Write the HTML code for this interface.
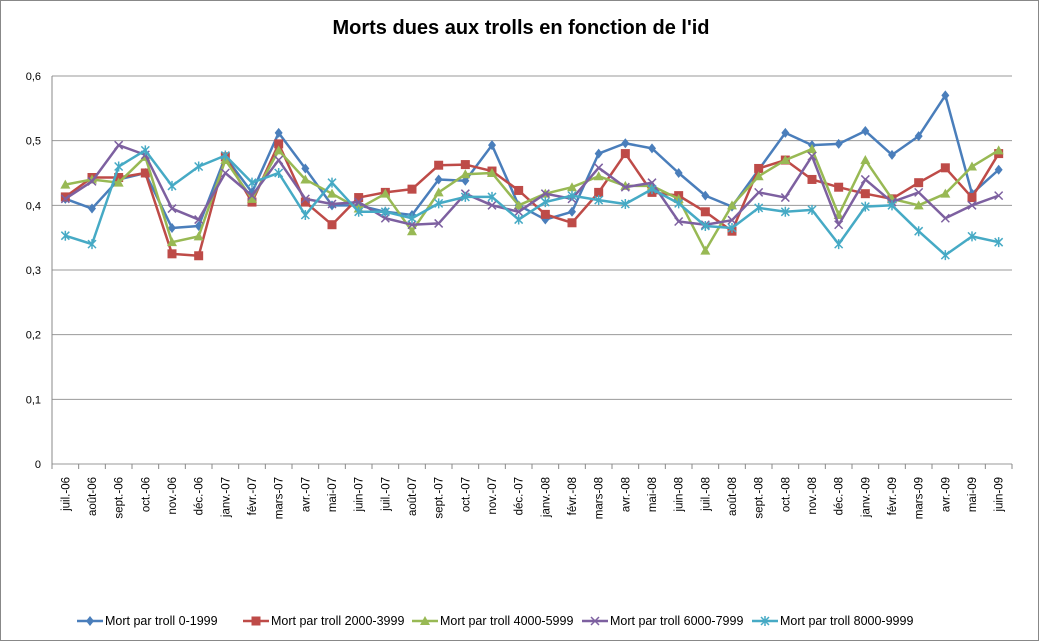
<!DOCTYPE html>
<html><head><meta charset="utf-8"><style>
body{margin:0;background:#fff;}
svg{display:block;font-family:"Liberation Sans",sans-serif;}
</style></head><body>
<svg id="c" width="1043" height="642" xmlns="http://www.w3.org/2000/svg">
<rect x="0.5" y="0.5" width="1038" height="640" fill="#fff" stroke="#888"/>
<text x="521" y="34" text-anchor="middle" font-size="20" font-weight="bold">Morts dues aux trolls en fonction de l'id</text>
</svg>
<script>
const s=document.getElementById('c'),NS='http://www.w3.org/2000/svg';
function el(t,a,txt){const e=document.createElementNS(NS,t);for(const k in a)e.setAttribute(k,a[k]);if(txt!=null)e.textContent=txt;s.appendChild(e);return e;}
const L=52,R=1012,Y0=464,PX=646.7,W=(R-L)/36;
const yv=v=>Y0-v*PX, xc=i=>L+W*(i+0.5);
for(let k=0;k<=6;k++){const y=yv(k/10);el('line',{x1:L,x2:R,y1:y,y2:y,stroke:'#999','stroke-width':1});
el('text',{x:41,y:y+4,'text-anchor':'end','font-size':11},k==0?'0':'0,'+k);}
el('line',{x1:L,x2:L,y1:yv(0.6),y2:Y0,stroke:'#888'});
for(let i=0;i<=36;i++){const x=L+W*i;el('line',{x1:x,x2:x,y1:Y0,y2:Y0+5,stroke:'#888'});}
const labs=['juil.-06','août-06','sept.-06','oct.-06','nov.-06','déc.-06','janv.-07','févr.-07','mars-07','avr.-07','mai-07','juin-07','juil.-07','août-07','sept.-07','oct.-07','nov.-07','déc.-07','janv.-08','févr.-08','mars-08','avr.-08','mai-08','juin-08','juil.-08','août-08','sept.-08','oct.-08','nov.-08','déc.-08','janv.-09','févr.-09','mars-09','avr.-09','mai-09','juin-09'];
labs.forEach((t,i)=>{const x=xc(i)+4,y=477;el('text',{x:x,y:y,'text-anchor':'end','font-size':11.5,transform:`rotate(-90 ${x} ${y})`},t);});
const D=[
['#4a7ebb','d',[.41,.395,.44,.45,.365,.368,.475,.42,.512,.457,.40,.40,.39,.385,.44,.438,.493,.40,.378,.39,.48,.496,.488,.45,.415,.398,.455,.512,.493,.495,.515,.478,.507,.57,.418,.455],'Mort par troll 0-1999'],
['#be4b48','s',[.413,.443,.443,.45,.325,.322,.475,.405,.495,.405,.37,.412,.42,.425,.462,.463,.453,.423,.386,.373,.42,.48,.42,.415,.39,.36,.457,.47,.44,.428,.418,.41,.435,.458,.412,.48],'Mort par troll 2000-3999'],
['#98b954','t',[.432,.44,.435,.475,.343,.352,.47,.41,.485,.44,.418,.395,.418,.36,.42,.448,.45,.4,.418,.428,.445,.43,.43,.41,.33,.4,.445,.47,.487,.385,.47,.41,.4,.418,.46,.485],'Mort par troll 4000-5999'],
['#7d60a0','x',[.41,.437,.493,.478,.395,.378,.45,.415,.47,.41,.402,.405,.38,.37,.372,.418,.4,.39,.418,.41,.458,.428,.435,.375,.37,.377,.42,.412,.476,.37,.44,.405,.42,.38,.4,.415],'Mort par troll 6000-7999'],
['#46aac5','a',[.353,.34,.46,.485,.43,.46,.477,.435,.45,.385,.435,.39,.39,.38,.403,.413,.413,.378,.405,.415,.408,.402,.425,.403,.368,.365,.396,.39,.393,.34,.398,.4,.36,.323,.352,.343],'Mort par troll 8000-9999']];
function mk(c,m,x,y){
 if(m=='d')el('path',{d:`M${x} ${y-5}L${x+4} ${y}L${x} ${y+5}L${x-4} ${y}Z`,fill:c});
 else if(m=='s')el('rect',{x:x-4.5,y:y-4.5,width:9,height:9,fill:c});
 else if(m=='t')el('path',{d:`M${x} ${y-5}L${x+5} ${y+4}L${x-5} ${y+4}Z`,fill:c});
 else if(m=='x')el('path',{d:`M${x-4} ${y-4}L${x+4} ${y+4}M${x+4} ${y-4}L${x-4} ${y+4}`,stroke:c,'stroke-width':1.5});
 else el('path',{d:`M${x-4} ${y-4}L${x+4} ${y+4}M${x+4} ${y-4}L${x-4} ${y+4}M${x} ${y-5}L${x} ${y+5}`,stroke:c,'stroke-width':1.5});
}
const lx=[77,243,412,582,752];
D.forEach((d,j)=>{
 el('polyline',{points:d[2].map((v,i)=>xc(i)+','+yv(v)).join(' '),fill:'none',stroke:d[0],'stroke-width':2.5,'stroke-linejoin':'round'});
 d[2].forEach((v,i)=>mk(d[0],d[1],xc(i),yv(v)));
 const x=lx[j];el('line',{x1:x,x2:x+26,y1:621,y2:621,stroke:d[0],'stroke-width':2.5});mk(d[0],d[1],x+13,621);
 el('text',{x:x+28,y:625,'font-size':12.5},d[3]);
});
</script>
</body></html>
